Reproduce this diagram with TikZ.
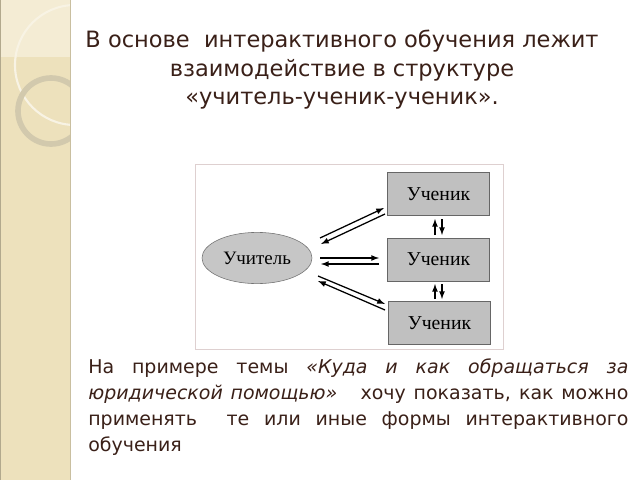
\documentclass[tikz,border=0pt]{standalone}
\usepackage{fontspec}
\setmainfont{DejaVu Sans}
\newfontfamily\boxfont{Liberation Serif}
\usepackage{tikz}
\usetikzlibrary{arrows,shapes.geometric}
\definecolor{textbrown}{RGB}{58,32,24}
\definecolor{stripbeige}{RGB}{237,225,188}
\definecolor{striplight}{RGB}{244,236,212}
\definecolor{boxgray}{RGB}{192,192,192}
\definecolor{framegray}{RGB}{222,208,208}
\hyphenpenalty=10000
\exhyphenpenalty=10000

\begin{document}
\begin{tikzpicture}[x=0.025cm,y=-0.025cm,
  pupil/.style={draw=black!60,fill=boxgray,minimum width=2.55cm,minimum height=1.08cm,
    font=\boxfont\fontsize{14}{16}\selectfont},
  teacher/.style={ellipse,draw=black!55,fill=boxgray!90,minimum width=2.75cm,minimum height=1.28cm,
    inner sep=0pt,font=\boxfont\fontsize{13.5}{16}\selectfont},
  link/.style={-latex,line width=0.9pt},
  heading/.style={align=center,inner sep=0pt,text=textbrown,font=\fontsize{16}{20.3}\selectfont},
  remark/.style={text width=13.5cm,align=justify,inner sep=0pt,text=textbrown,
    font=\fontsize{13.5}{18.5}\selectfont}]
\useasboundingbox (0,0) rectangle (640,480);
\fill[white] (0,0) rectangle (640,480);
\fill[stripbeige] (0,0) rectangle (70,480);
\fill[striplight] (0,0) rectangle (70,57);
\begin{scope}
\clip (0,0) rectangle (70,480);
\draw[white!60!stripbeige,line width=1.5pt] (75,65) circle (60);
\draw[gray!25!stripbeige,line width=4pt] (51,111) circle (33);
\end{scope}
\draw[black!25!stripbeige] (0.5,0) -- (0.5,480);
\draw[black!15!stripbeige] (70,0) -- (70,480);

\node[heading,anchor=north] (head) at (342,30) {В основе~~интерактивного обучения лежит\\
взаимодействие в структуре\\
«учитель-ученик-ученик».};

\draw[framegray] (195,164) rectangle (503,349);
\node[teacher] (teach) at (257,258) {Учитель};
\node[pupil] (p1) at (438.5,194) {Ученик};
\node[pupil] (p2) at (438.5,259.5) {Ученик};
\node[pupil] (p3) at (439.5,323) {Ученик};

\coordinate (up1s) at (320,238); \coordinate (up1e) at (384,208);
\coordinate (up2s) at (385,214); \coordinate (up2e) at (321,244);
\coordinate (mid1s) at (320,258); \coordinate (mid1e) at (379,258);
\coordinate (mid2s) at (379,264); \coordinate (mid2e) at (321,264);
\coordinate (lo1s) at (318,276); \coordinate (lo1e) at (385,304);
\coordinate (lo2s) at (385,310); \coordinate (lo2e) at (318,281);
\coordinate (v1s) at (435,235); \coordinate (v1e) at (435,219);
\coordinate (v2s) at (442,219); \coordinate (v2e) at (442,235);
\coordinate (v3s) at (435,299); \coordinate (v3e) at (435,284);
\coordinate (v4s) at (442,284); \coordinate (v4e) at (442,299);
\foreach \a in {up1,up2,mid1,mid2,lo1,lo2,v1,v2,v3,v4}
  \draw[link] (\a s) -- (\a e);

\node[remark,anchor=north west] (note) at (88,358) {На примере темы \textit{«Куда и как обращаться за}\linebreak
\textit{юридической помощью»}~~ хочу показать, как можно\linebreak
применять~ те или иные формы интерактивного\linebreak
обучения};
\end{tikzpicture}
\end{document}
